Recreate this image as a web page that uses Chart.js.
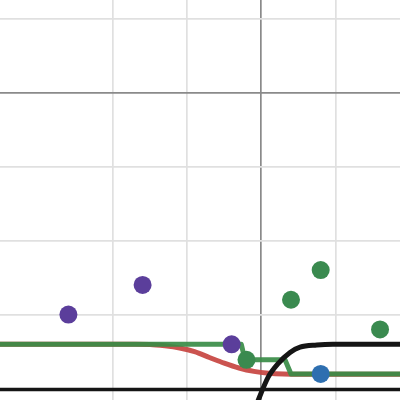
<!DOCTYPE html>
<html>
<head>
<meta charset="utf-8">
<script src="https://cdn.jsdelivr.net/npm/chart.js@4/dist/chart.umd.min.js"></script>
<style>
  html, body { margin: 0; padding: 0; background: #fff; }
  #wrap { width: 400px; height: 400px; }
</style>
</head>
<body>
<div id="wrap"><canvas id="chart" width="400" height="400"></canvas></div>
<script>
// === Data (graph units, one grid square = 1) ===
var purplePts = [
  { x: -2.6, y: -2.99 },
  { x: -1.6, y: -2.59 },
  { x: -0.4, y: -3.39 }
];
var greenPts = [
  { x: -0.2, y: -3.6 },
  { x: 0.4, y: -2.79 },
  { x: 0.8, y: -2.39 },
  { x: 1.6, y: -3.19 }
];
var bluePts = [
  { x: 0.8, y: -3.79 }
];

var blackCurve = [
  { x: -0.1, y: -4.3 },
  { x: -0.04, y: -4.14 },
  { x: 0.094, y: -3.83 },
  { x: 0.229, y: -3.647 },
  { x: 0.387, y: -3.5 },
  { x: 0.522, y: -3.43 },
  { x: 0.747, y: -3.4 },
  { x: 0.966, y: -3.39 },
  { x: 1.95, y: -3.39 }
];
var blackFlat = [
  { x: -3.6, y: -4.0 },
  { x: 1.95, y: -4.0 }
];
var greenStep = [
  { x: -3.6, y: -3.39 },
  { x: -0.27, y: -3.39 },
  { x: -0.22, y: -3.6 },
  { x: 0.32, y: -3.6 },
  { x: 0.4, y: -3.79 },
  { x: 1.95, y: -3.79 }
];
var redCurve = [
  { x: -3.6, y: -3.39 },
  { x: -1.7, y: -3.39 },
  { x: -1.5, y: -3.392 },
  { x: -1.3, y: -3.41 },
  { x: -1.1, y: -3.44 },
  { x: -0.9, y: -3.49 },
  { x: -0.7, y: -3.568 },
  { x: -0.5, y: -3.645 },
  { x: -0.3, y: -3.71 },
  { x: -0.1, y: -3.755 },
  { x: 0.1, y: -3.78 },
  { x: 0.3, y: -3.792 },
  { x: 0.55, y: -3.795 },
  { x: 1.95, y: -3.795 }
];

var xRange = [-3.522, 1.869];
var yRange = [-4.141, 1.249];

function pointSet(data, color) {
  return {
    data: data,
    showLine: false,
    pointRadius: 9,
    pointHoverRadius: 9,
    pointBackgroundColor: color,
    pointBorderWidth: 0
  };
}

function lineSet(data, color, width, smooth) {
  return {
    data: data,
    showLine: true,
    pointRadius: 0,
    borderColor: color,
    borderWidth: width,
    borderJoinStyle: 'round',
    borderCapStyle: 'round',
    tension: 0,
    cubicInterpolationMode: smooth ? 'monotone' : 'default',
    fill: false
  };
}

function integerTicks(scale) {
  scale.ticks = scale.ticks.filter(function(t) {
    return Math.abs(t.value - Math.round(t.value)) < 1e-6;
  });
}

function gridColor(ctx) {
  if (ctx.tick && Math.abs(ctx.tick.value) < 1e-6) return '#8a8a8a';
  return '#e0e0e0';
}

var axis = function(range) {
  return {
    type: 'linear',
    min: range[0],
    max: range[1],
    afterBuildTicks: integerTicks,
    ticks: { display: false, stepSize: 1 },
    border: { display: false },
    grid: { color: gridColor, lineWidth: 1.7, drawTicks: false }
  };
};

new Chart(document.getElementById('chart').getContext('2d'), {
  type: 'scatter',
  data: {
    datasets: [
      pointSet(purplePts, '#5b3e9b'),
      pointSet(greenPts, '#3a8a4f'),
      pointSet(bluePts, '#2e6fb0'),
      lineSet(blackCurve, '#151515', 5, true),
      lineSet(blackFlat, '#151515', 3.5, false),
      lineSet(greenStep, 'rgba(56,140,70,0.92)', 5, false),
      lineSet(redCurve, 'rgba(199,68,64,0.92)', 5, true)
    ]
  },
  options: {
    responsive: false,
    animation: false,
    layout: { padding: 0, autoPadding: false },
    plugins: { legend: { display: false }, tooltip: { enabled: false } },
    scales: {
      x: axis(xRange),
      y: axis(yRange)
    }
  }
});
</script>
</body>
</html>
